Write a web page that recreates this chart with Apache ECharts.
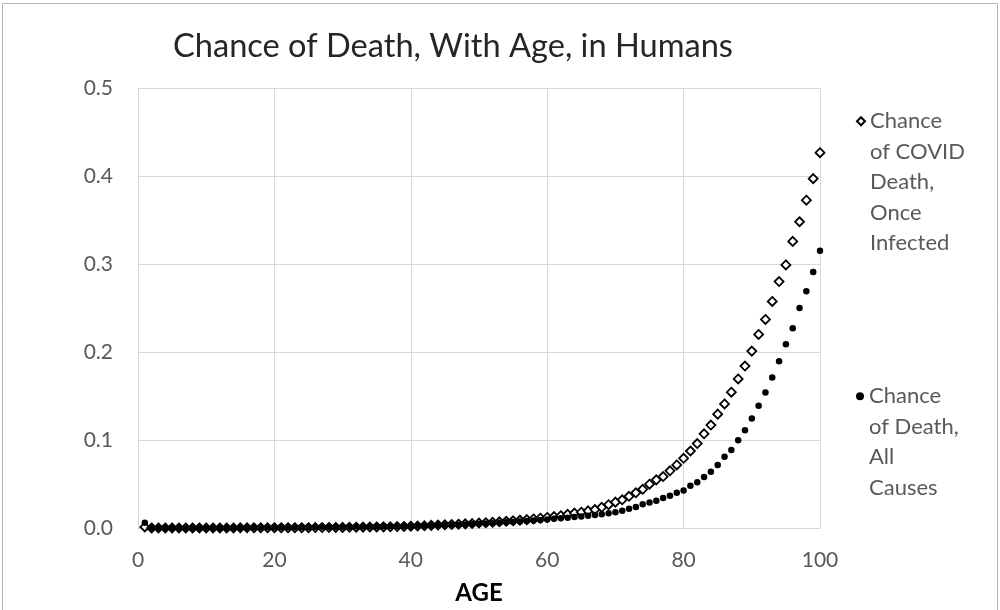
<!DOCTYPE html>
<html lang="en">
<head>
    <meta charset="UTF-8">
    <title>Chance of Death, With Age, in Humans</title>
    <script src="https://cdn.jsdelivr.net/npm/echarts@6/dist/echarts.min.js"></script>
</head>
<style>
    *{
        margin: 0;
        padding: 0;
    }
    html,body{
        width: 100%;
        height: 100%;
        overflow: hidden;
        background: #fff;
    }
    .container{
        width: 1000px;
        height: 610px;
    }
</style>
<body>
<div class="container"></div>
<script>
    // ages 1..100
    let ages = [];
    for (let a = 1; a <= 100; a++) ages.push(a);

    // chance of COVID death once infected
    let covidDeath = [
        0.0012, 0.0001, 0.0001, 0.0001, 0.0001, 0.0001, 0.0001, 0.0001, 0.0001, 0.0001,
        0.0001, 0.0001, 0.0001, 0.0001, 0.0002, 0.0002, 0.0002, 0.0002, 0.0002, 0.0003,
        0.0003, 0.0003, 0.0004, 0.0004, 0.0004, 0.0005, 0.0005, 0.0006, 0.0006, 0.0007,
        0.0008, 0.0009, 0.0010, 0.0011, 0.0012, 0.0013, 0.0014, 0.0016, 0.0018, 0.0020,
        0.0022, 0.0025, 0.0030, 0.0033, 0.0036, 0.0039, 0.0043, 0.0047, 0.0051, 0.0056,
        0.0060, 0.0065, 0.0070, 0.0076, 0.0082, 0.0088, 0.0095, 0.0103, 0.0111, 0.0120,
        0.0130, 0.0140, 0.0155, 0.0170, 0.0180, 0.0195, 0.0210, 0.0235, 0.0265, 0.0294,
        0.0320, 0.0360, 0.0400, 0.0440, 0.0498, 0.0547, 0.0585, 0.0650, 0.0717, 0.0792,
        0.0875, 0.0960, 0.1070, 0.1170, 0.1294, 0.1410, 0.1543, 0.1694, 0.1840, 0.2010,
        0.2200, 0.2370, 0.2574, 0.2800, 0.2990, 0.3257, 0.3480, 0.3725, 0.3970, 0.4265
    ];

    // chance of death from all causes
    let allCauses = [
        0.0060, 0.0004, 0.0003, 0.0002, 0.0002, 0.0002, 0.0001, 0.0001, 0.0001, 0.0001,
        0.0001, 0.0001, 0.0002, 0.0002, 0.0003, 0.0004, 0.0005, 0.0007, 0.0008, 0.0009,
        0.0010, 0.0010, 0.0011, 0.0011, 0.0012, 0.0012, 0.0013, 0.0013, 0.0014, 0.0015,
        0.0015, 0.0016, 0.0017, 0.0017, 0.0018, 0.0019, 0.0020, 0.0021, 0.0022, 0.0023,
        0.0025, 0.0026, 0.0028, 0.0030, 0.0032, 0.0034, 0.0037, 0.0040, 0.0043, 0.0047,
        0.0051, 0.0055, 0.0060, 0.0064, 0.0069, 0.0074, 0.0079, 0.0085, 0.0091, 0.0097,
        0.0104, 0.0110, 0.0117, 0.0124, 0.0131, 0.0139, 0.0147, 0.0157, 0.0168, 0.0180,
        0.0196, 0.0220, 0.0240, 0.0270, 0.0290, 0.0310, 0.0340, 0.0366, 0.0400, 0.0425,
        0.0480, 0.0520, 0.0580, 0.0640, 0.0717, 0.0810, 0.0887, 0.0996, 0.1110, 0.1245,
        0.1390, 0.1540, 0.1710, 0.1894, 0.2087, 0.2270, 0.2500, 0.2690, 0.2910, 0.3150
    ];

    let seriesNames = ['Chance of COVID Death, Once Infected', 'Chance of Death, All Causes'];
    let legendLines = [
        ['Chance', 'of COVID', 'Death,', 'Once', 'Infected'],
        ['Chance', 'of Death,', 'All', 'Causes']
    ];

    let font = 'Lato';
    let grey = '#595959';
    let gridColor = '#d9d9d9';

    // put the first line of the text level with the icon
    function legendText(lines) {
        let pad = [];
        for (let i = 1; i < lines.length; i++) pad.push('');
        return pad.concat(lines).join('\n');
    }

    let container = document.querySelector('.container');
    let mycharts = echarts.init(container);

    let options = {
        backgroundColor: '#fff',
        animation: false,
        title: {
            text: 'Chance of Death, With Age, in Humans',
            left: 168,
            top: 25,
            textStyle: {
                fontFamily: font,
                fontSize: 32.6,
                fontWeight: 'normal',
                color: '#262626'
            }
        },
        grid: {
            left: 138,
            right: 180,
            top: 88,
            bottom: 82
        },
        xAxis: {
            type: 'value',
            min: 0,
            max: 100,
            interval: 20,
            name: 'AGE',
            nameLocation: 'middle',
            nameGap: 53,
            nameTextStyle: {
                fontFamily: font,
                fontSize: 24,
                fontWeight: 'bold',
                color: '#000'
            },
            axisLine: {lineStyle: {color: gridColor, width: 1}},
            axisTick: {show: false},
            axisLabel: {
                margin: 22,
                fontFamily: font,
                fontSize: 21,
                color: grey
            },
            splitLine: {lineStyle: {color: gridColor, width: 1}}
        },
        yAxis: {
            type: 'value',
            min: 0,
            max: 0.5,
            interval: 0.1,
            axisLine: {show: false},
            axisTick: {show: false},
            axisLabel: {
                margin: 25,
                fontFamily: font,
                fontSize: 21,
                color: grey,
                formatter: v => v.toFixed(1)
            },
            splitLine: {lineStyle: {color: gridColor, width: 1}}
        },
        legend: [0, 1].map(i => ({
            data: [seriesNames[i]],
            left: 851,
            top: i == 0 ? 101 - 4 * 30.5 : 376 - 3 * 30.5,
            orient: 'vertical',
            itemWidth: 8,
            itemHeight: 8,
            itemGap: 0,
            selectedMode: false,
            formatter: () => legendText(legendLines[i]),
            textStyle: {
                fontFamily: font,
                fontSize: 22,
                lineHeight: 30.5,
                color: grey
            }
        })),
        graphic: [{
            type: 'rect',
            shape: {x: 2.5, y: 3.5, width: 995, height: 700},
            style: {fill: 'none', stroke: '#b4b4b4', lineWidth: 1},
            silent: true
        }],
        series: [
            {
                name: seriesNames[0],
                type: 'scatter',
                symbol: 'diamond',
                symbolSize: 9,
                data: ages.map((a, i) => [a, covidDeath[i]]),
                itemStyle: {color: '#fff', borderColor: '#000', borderWidth: 1.8, opacity: 1}
            },
            {
                name: seriesNames[1],
                type: 'scatter',
                symbol: 'circle',
                symbolSize: 6.5,
                data: ages.map((a, i) => [a, allCauses[i]]),
                itemStyle: {color: '#000', opacity: 1}
            }
        ]
    };
    mycharts.setOption(options);
</script>
</body>
</html>
